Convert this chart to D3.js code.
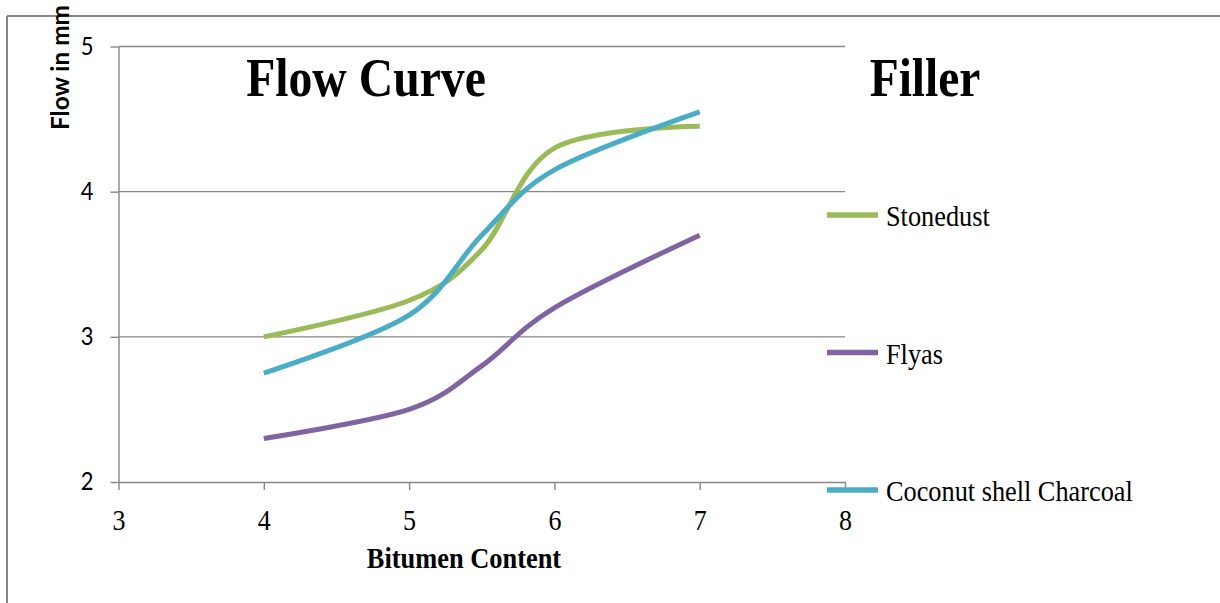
<!DOCTYPE html>
<html>
<head>
<meta charset="utf-8">
<script src="https://cdn.jsdelivr.net/npm/d3@7"></script>
<style>
  html, body { margin: 0; padding: 0; background: #fff; }
  svg { display: block; }
</style>
</head>
<body>
<svg id="chart" width="1220" height="603"></svg>
<script>
// Bitumen content (%) at which each mix was tested
const bitumen = [4, 5, 5.5, 6, 7];

// Flow values (mm) for each filler type
const stonedust = [3.0, 3.25, 3.6, 4.3, 4.45];
const flyas     = [2.3, 2.5, 2.8, 3.2, 3.7];
const coconut   = [2.75, 3.15, 3.7, 4.15, 4.55];

const seriesNames  = ["Stonedust", "Flyas", "Coconut shell Charcoal"];
const seriesColors = ["#9BBB59", "#8064A2", "#4BACC6"];
const seriesValues = [stonedust, flyas, coconut];

const xTicks = [3, 4, 5, 6, 7, 8];
const yTicks = [2, 3, 4, 5];

const svg = d3.select("#chart");
const grey = "#878787";
const serif = "'Liberation Serif', 'Times New Roman', serif";
const sans = "Lato, 'Liberation Sans', sans-serif";

// outer frame of the chart object
svg.append("line").attr("x1", 7).attr("x2", 1220).attr("y1", 16).attr("y2", 16)
  .attr("stroke", grey).attr("stroke-width", 2);
svg.append("line").attr("x1", 7).attr("x2", 7).attr("y1", 16).attr("y2", 603)
  .attr("stroke", grey).attr("stroke-width", 2);

const x = d3.scaleLinear().domain([3, 8]).range([118.5, 845]);
const y = d3.scaleLinear().domain([2, 5]).range([482, 46.5]);

// horizontal gridlines
svg.append("g").selectAll("line")
  .data(yTicks.filter(d => d > 2))
  .join("line")
  .attr("x1", x(3)).attr("x2", x(8))
  .attr("y1", d => y(d)).attr("y2", d => y(d))
  .attr("stroke", grey).attr("stroke-width", 1.4);

// y axis
const yAxis = svg.append("g")
  .attr("transform", `translate(${x(3)},0)`)
  .call(d3.axisLeft(y).tickValues(yTicks).tickSize(8).tickSizeOuter(0).tickFormat(""));
yAxis.select(".domain").attr("stroke", grey).attr("stroke-width", 1.4);
yAxis.selectAll(".tick line").attr("stroke", grey).attr("stroke-width", 1.4);
yAxis.selectAll(".tick").append("text")
  .attr("transform", "translate(-25,7.5) scale(1,1.12)")
  .attr("text-anchor", "end")
  .attr("fill", "#000")
  .style("font-family", sans)
  .style("font-size", "22px")
  .text(d => d);

// x axis
const xAxis = svg.append("g")
  .attr("transform", `translate(0,${y(2)})`)
  .call(d3.axisBottom(x).tickValues(xTicks).tickSize(8).tickSizeOuter(0).tickFormat(""));
xAxis.select(".domain").attr("stroke", grey).attr("stroke-width", 1.4);
xAxis.selectAll(".tick line").attr("stroke", grey).attr("stroke-width", 1.4);
xAxis.selectAll(".tick").append("text")
  .attr("transform", "translate(0,48) scale(1,1.12)")
  .attr("text-anchor", "middle")
  .attr("fill", "#000")
  .style("font-family", serif)
  .style("font-size", "26px")
  .text(d => d);

// smoothed series lines
const line = d3.line()
  .x((d, i) => x(bitumen[i]))
  .y(d => y(d))
  .curve(d3.curveCardinal.tension(0));

svg.append("g").selectAll("path")
  .data(seriesValues)
  .join("path")
  .attr("d", d => line(d))
  .attr("fill", "none")
  .attr("stroke", (d, i) => seriesColors[i])
  .attr("stroke-width", 5)
  .attr("stroke-linecap", "butt");

// legend
const legendY = [215, 352.5, 490];
const legend = svg.append("g").selectAll("g")
  .data(seriesNames)
  .join("g")
  .attr("transform", (d, i) => `translate(827,${legendY[i]})`);
legend.append("line")
  .attr("x1", 0).attr("x2", 51).attr("y1", 0).attr("y2", 0)
  .attr("stroke", (d, i) => seriesColors[i])
  .attr("stroke-width", 5.5);
legend.append("text")
  .attr("transform", "translate(59,11) scale(1,1.08)")
  .attr("fill", "#000")
  .style("font-family", serif)
  .style("font-size", "26.3px")
  .text(d => d);

// titles
svg.append("text")
  .attr("transform", "translate(366,96) scale(1,1.15)")
  .attr("text-anchor", "middle")
  .style("font-family", serif).style("font-weight", "bold").style("font-size", "47.7px")
  .text("Flow Curve");
svg.append("text")
  .attr("transform", "translate(925,96) scale(1,1.15)")
  .attr("text-anchor", "middle")
  .style("font-family", serif).style("font-weight", "bold").style("font-size", "47.5px")
  .text("Filler");

// axis titles
svg.append("text")
  .attr("transform", "translate(464,568) scale(1,1.08)")
  .attr("text-anchor", "middle")
  .style("font-family", serif).style("font-weight", "bold").style("font-size", "26.4px")
  .text("Bitumen Content");
svg.append("text")
  .attr("transform", "translate(69,67.5) rotate(-90)")
  .attr("text-anchor", "middle")
  .attr("textLength", 125)
  .attr("lengthAdjust", "spacingAndGlyphs")
  .style("font-family", sans).style("font-weight", "bold").style("font-size", "24px")
  .text("Flow in mm");
</script>
</body>
</html>
